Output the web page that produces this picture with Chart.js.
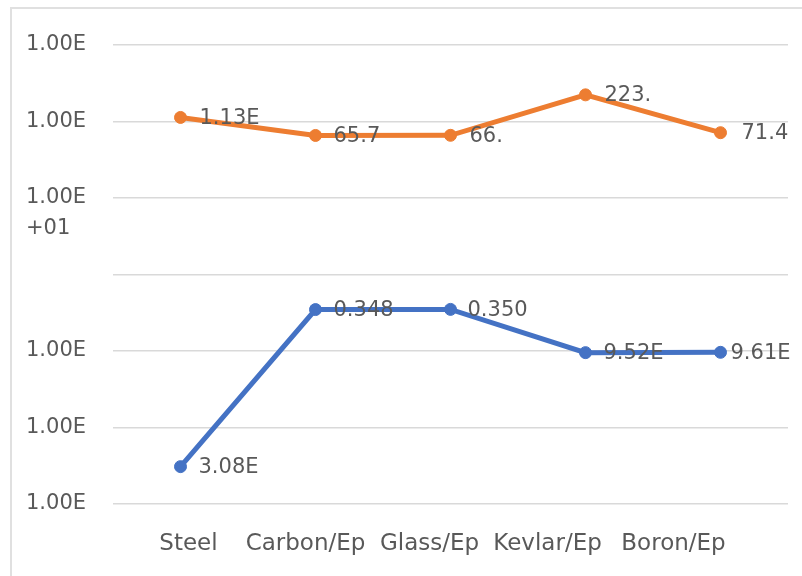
<!DOCTYPE html>
<html>
<head>
<meta charset="utf-8">
<script src="https://cdn.jsdelivr.net/npm/chart.js@4/dist/chart.umd.min.js"></script>
<style>
  html, body { margin: 0; padding: 0; background: #fff; overflow: hidden; }
  #wrap { position: relative; width: 802px; height: 576px; }
  #frame { position: absolute; left: 10px; top: 7px; width: 900px; height: 700px;
           border: 2px solid #e0e0e0; box-sizing: border-box; }
  canvas { position: absolute; left: 0; top: 0; }
</style>
</head>
<body>
<div id="wrap">
  <div id="frame"></div>
  <canvas id="chart" width="802" height="576"></canvas>
</div>
<script>
// Materials on the category axis
const categories = ['Steel', 'Carbon/Ep', 'Glass/Ep', 'Kevlar/Ep', 'Boron/Ep'];

// Upper (orange) series and its printed labels
const upperValues = [113, 65.7, 66, 223, 71.4];
const upperLabels = ['1.13E', '65.7', '66.', '223.', '71.4'];

// Lower (blue) series and its printed labels
const lowerValues = [3.08e-3, 0.348, 0.350, 9.52e-2, 9.61e-2];
const lowerLabels = ['3.08E', '0.348', '0.350', '9.52E', '9.61E'];

// Decade ticks of the log axis and the text shown beside each one
const yTickValues = [1e-3, 1e-2, 1e-1, 1, 10, 100, 1000];
const yTickLabels = ['1.00E', '1.00E', '1.00E', '', ['', '1.00E', '+01'], '1.00E', '1.00E'];

const TEXT_GREY = '#595959';
const GRID_GREY = '#d9d9d9';

// Horizontal nudges of the category names relative to their tick
const categoryDx = [8, -10, -21, -38, -47];

// Draws each point's label to the right of its marker
const pointLabels = {
  id: 'pointLabels',
  afterDatasetsDraw(chart) {
    const ctx = chart.ctx;
    ctx.save();
    ctx.font = '21px "DejaVu Sans"';
    ctx.fillStyle = TEXT_GREY;
    ctx.textAlign = 'left';
    ctx.textBaseline = 'middle';
    chart.data.datasets.forEach((ds, i) => {
      chart.getDatasetMeta(i).data.forEach((pt, j) => {
        const dx = ds.labelDx ? ds.labelDx[j] : 18;
        ctx.fillText(ds.pointText[j], pt.x + dx, pt.y + 1);
      });
    });
    ctx.restore();
  }
};

// Category names under the plot, placed from the x scale's tick positions
const categoryNames = {
  id: 'categoryNames',
  afterDraw(chart) {
    const ctx = chart.ctx;
    const xs = chart.scales.x;
    ctx.save();
    ctx.font = '23px "DejaVu Sans"';
    ctx.fillStyle = TEXT_GREY;
    ctx.textAlign = 'center';
    ctx.textBaseline = 'alphabetic';
    chart.data.labels.forEach((name, i) => {
      ctx.fillText(name, xs.getPixelForTick(i) + categoryDx[i], xs.top + 46);
    });
    ctx.restore();
  }
};

new Chart(document.getElementById('chart'), {
  type: 'line',
  data: {
    labels: categories,
    datasets: [
      {
        data: upperValues,
        pointText: upperLabels,
        labelDx: [19, 18, 19, 19, 21],
        borderColor: '#ED7D31',
        backgroundColor: '#ED7D31',
        borderWidth: 5,
        pointRadius: 6,
        pointBorderWidth: 1,
        pointHoverRadius: 6,
        tension: 0
      },
      {
        data: lowerValues,
        pointText: lowerLabels,
        labelDx: [18, 18, 17, 18, 10],
        borderColor: '#4472C4',
        backgroundColor: '#4472C4',
        borderWidth: 5,
        pointRadius: 6,
        pointBorderWidth: 1,
        pointHoverRadius: 6,
        tension: 0
      }
    ]
  },
  options: {
    responsive: false,
    animation: false,
    devicePixelRatio: 1,
    layout: { padding: { left: 26, right: 14, top: 45, bottom: 0 } },
    plugins: {
      legend: { display: false },
      tooltip: { enabled: false }
    },
    scales: {
      x: {
        offset: true,
        grid: { display: false },
        border: { display: false },
        ticks: { display: false },
        afterFit(scale) { scale.height = 72; }
      },
      y: {
        type: 'logarithmic',
        min: 1e-3,
        max: 1e3,
        border: { display: false },
        grid: { color: GRID_GREY, lineWidth: 1.5, drawTicks: false },
        afterBuildTicks(scale) {
          scale.ticks = yTickValues.map(v => ({ value: v }));
        },
        ticks: {
          color: TEXT_GREY,
          font: { family: '"DejaVu Sans"', size: 21, lineHeight: '31px' },
          crossAlign: 'far',
          padding: 0,
          autoSkip: false,
          callback: (value, index) => yTickLabels[index]
        },
        afterFit(scale) { scale.width = 87; }
      }
    }
  },
  plugins: [pointLabels, categoryNames]
});
</script>
</body>
</html>
